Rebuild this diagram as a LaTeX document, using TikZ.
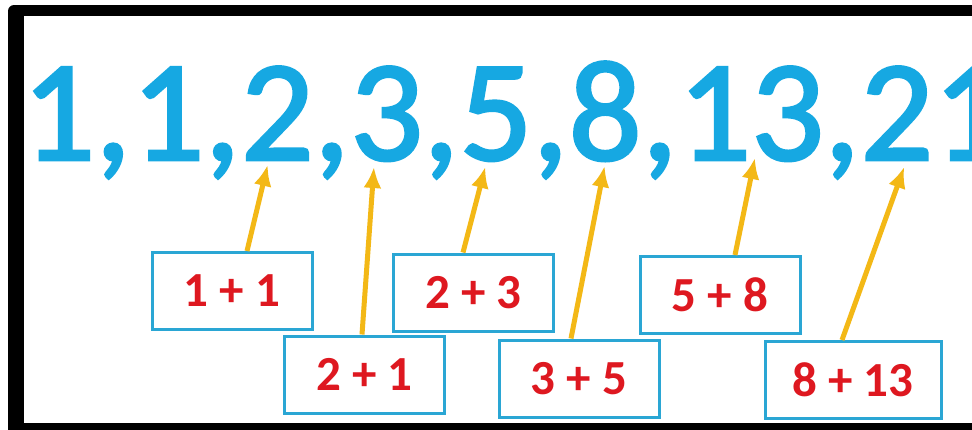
\documentclass[tikz,border=0pt]{standalone}
\usepackage{fontspec}
\setmainfont{Carlito}
\newfontfamily\seqfont[FakeBold=2]{Carlito}
\usepackage{tikz}
\usetikzlibrary{arrows.meta,positioning}

\definecolor{fibblue}{RGB}{22,168,226}
\definecolor{boxblue}{RGB}{42,166,212}
\definecolor{sumred}{RGB}{222,24,32}
\definecolor{arrowgold}{RGB}{243,184,22}

\begin{document}
\begin{tikzpicture}[x=1pt, y=-1pt, >={Latex[length=21pt,width=18pt]},
    num/.style={inner sep=0pt, text=fibblue, font=\seqfont\fontsize{144}{144}\selectfont},
    sumbox/.style={draw=boxblue, line width=3pt, fill=white, minimum width=160pt,
        minimum height=77pt, text=sumred, font=\fontsize{49}{49}\selectfont\bfseries},
    fib/.style={->, draw=arrowgold, line width=5pt}]

    \useasboundingbox (0,0) rectangle (972,429);
    \clip (0,0) rectangle (972,429);
    \fill[black, rounded corners=6pt] (8,5) rectangle (1000,460);
    \fill[white] (24,16) rectangle (1000,423);

    \node[num, anchor=base west] (n1) at (22,160) {1,};
    \node[num, base right=0pt of n1] (n2) {1,};
    \node[num, base right=0pt of n2] (n3) {2,};
    \node[num, base right=0pt of n3] (n4) {3,};
    \node[num, base right=0pt of n4] (n5) {5,};
    \node[num, base right=0pt of n5] (n6) {8,};
    \node[num, base right=0pt of n6] (n7) {13,};
    \node[num, base right=0pt of n7] (n8) {21};

    \node[sumbox] (s11) at (232,291) {1 + 1};
    \node[sumbox] (s21) at (364.5,374.5) {2 + 1};
    \node[sumbox] (s23) at (473.5,292.5) {2 + 3};
    \node[sumbox] (s35) at (579,378.5) {3 + 5};
    \node[sumbox] (s58) at (720,295) {5 + 8};
    \node[sumbox, minimum width=176pt] (s813) at (853,380) {8 + 13};

    \path[fib] ([xshift=15pt]s11.north) -- ([xshift=27pt,yshift=-5pt]n3.base west);
    \path[fib] ([xshift=-2.5pt]s21.north) -- ([xshift=24pt,yshift=-7pt]n4.base west);
    \path[fib] ([xshift=-10.5pt]s23.north) -- ([xshift=26pt,yshift=-7pt]n5.base west);
    \path[fib] ([xshift=-8pt]s35.north) -- ([xshift=36pt,yshift=-6pt]n6.base west);
    \path[fib] ([xshift=15pt]s58.north) -- ([xshift=77pt,yshift=2pt]n7.base west);
    \path[fib] ([xshift=-11pt]s813.north) -- ([xshift=44pt,yshift=-7pt]n8.base west);
\end{tikzpicture}
\end{document}
